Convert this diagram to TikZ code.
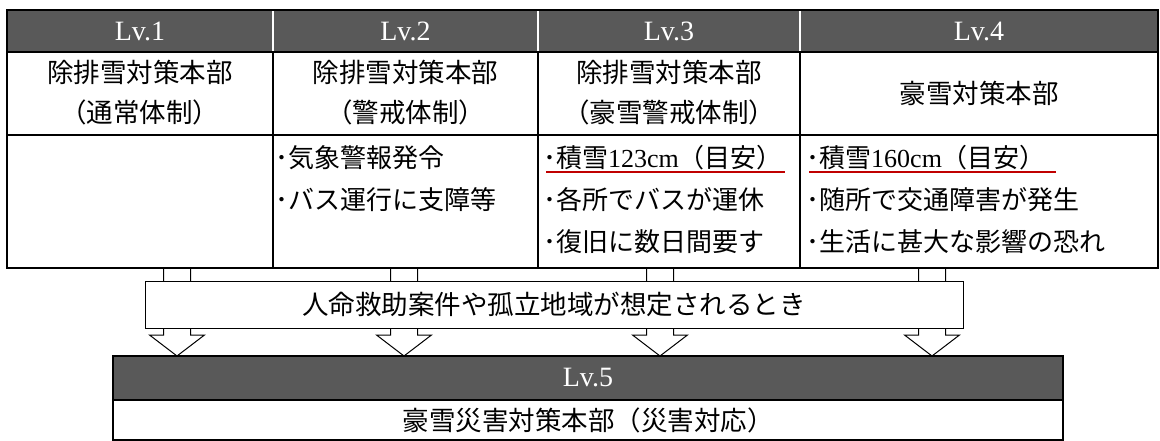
\documentclass[tikz,border=0pt]{standalone}
\usepackage{fontspec}
\setmainfont{Noto Sans CJK JP}
\newfontfamily\lat{Liberation Serif}
\definecolor{hdrgray}{HTML}{595959}
\definecolor{markred}{HTML}{C00000}
\tikzset{
  hdr/.style={text=white, font=\lat\fontsize{28}{30}\selectfont},
  cell/.style={font=\fontsize{26.5}{40}\selectfont, align=center},
  item/.style={font=\fontsize{26}{30}\selectfont, anchor=west, inner sep=0pt},
  grid/.style={line width=2pt},
  blockarrow/.style={draw, fill=white, line width=1pt, line join=miter},
  markline/.style={draw=markred, line width=2pt}
}
\begin{document}
\begin{tikzpicture}[x=1pt,y=-1pt]
  \useasboundingbox (0,0) rectangle (1160,441);

  % arrows (behind the strip)
  \foreach \x [count=\i] in {177,404,660,932} {
    \coordinate (top\i) at (\x,268);
    \coordinate (tip\i) at (\x,356);
    \draw[blockarrow] (top\i) ++(-13.5,0) -- ++(0,67) -- ++(-14,0) -- (tip\i)
      -- ++(27.5,-21) -- ++(-14,0) -- ++(0,-67) -- cycle;
  }

  % table
  \fill[hdrgray] (7,10) rectangle (1158,52);
  \foreach \x in {273,538,800} {
    \draw[white, line width=1.5pt] (\x,10) -- (\x,52);
    \draw[grid] (\x,52) -- (\x,268);
  }
  \draw[grid] (7,52) -- (1158,52);
  \draw[grid] (7,135) -- (1158,135);
  \draw[grid] (7,10) rectangle (1158,268);

  \node[hdr] (lv1) at (140,31) {Lv.1};
  \node[hdr] (lv2) at (405.5,31) {Lv.2};
  \node[hdr] (lv3) at (669,31) {Lv.3};
  \node[hdr] (lv4) at (979,31) {Lv.4};

  \node[cell] (hq1) at (140,93) {除排雪対策本部\\（通常体制）};
  \node[cell] (hq2) at (405.5,93) {除排雪対策本部\\（警戒体制）};
  \node[cell] (hq3) at (669,93) {除排雪対策本部\\（豪雪警戒体制）};
  \node[cell] (hq4) at (979,93) {豪雪対策本部};

  \node[item] (c21) at (275,158) {･気象警報発令};
  \node[item] (c22) at (275,200) {･バス運行に支障等};
  \node[item] (c31) at (543,158) {･積雪{\lat 123cm}（目安）};
  \node[item] (c32) at (543,200) {･各所でバスが運休};
  \node[item] (c33) at (543,242) {･復旧に数日間要す};
  \node[item] (c41) at (806,158) {･積雪{\lat 160cm}（目安）};
  \node[item] (c42) at (806,200) {･随所で交通障害が発生};
  \node[item] (c43) at (806,242) {･生活に甚大な影響の恐れ};

  \draw[markline] ([xshift=3pt,yshift=-1pt]c31.south west) -- ([xshift=2pt,yshift=-1pt]c31.south east);
  \draw[markline] ([xshift=3pt,yshift=-1pt]c41.south west) -- ([xshift=10pt,yshift=-1pt]c41.south east);

  % strip
  \node[draw, fill=white, line width=1pt, minimum width=818pt, minimum height=47pt,
    font=\fontsize{26.5}{30}\selectfont] (cond) at (554,304.5)
    {人命救助案件や孤立地域が想定されるとき};

  % Lv.5
  \fill[hdrgray] (113,356) rectangle (1063,400);
  \draw[grid] (113,400) -- (1063,400);
  \draw[grid] (113,356) rectangle (1063,440);
  \node[hdr] (lv5) at (588,378) {Lv.5};
  \node[cell] (hq5) at (588,420) {豪雪災害対策本部（災害対応）};
\end{tikzpicture}
\end{document}
